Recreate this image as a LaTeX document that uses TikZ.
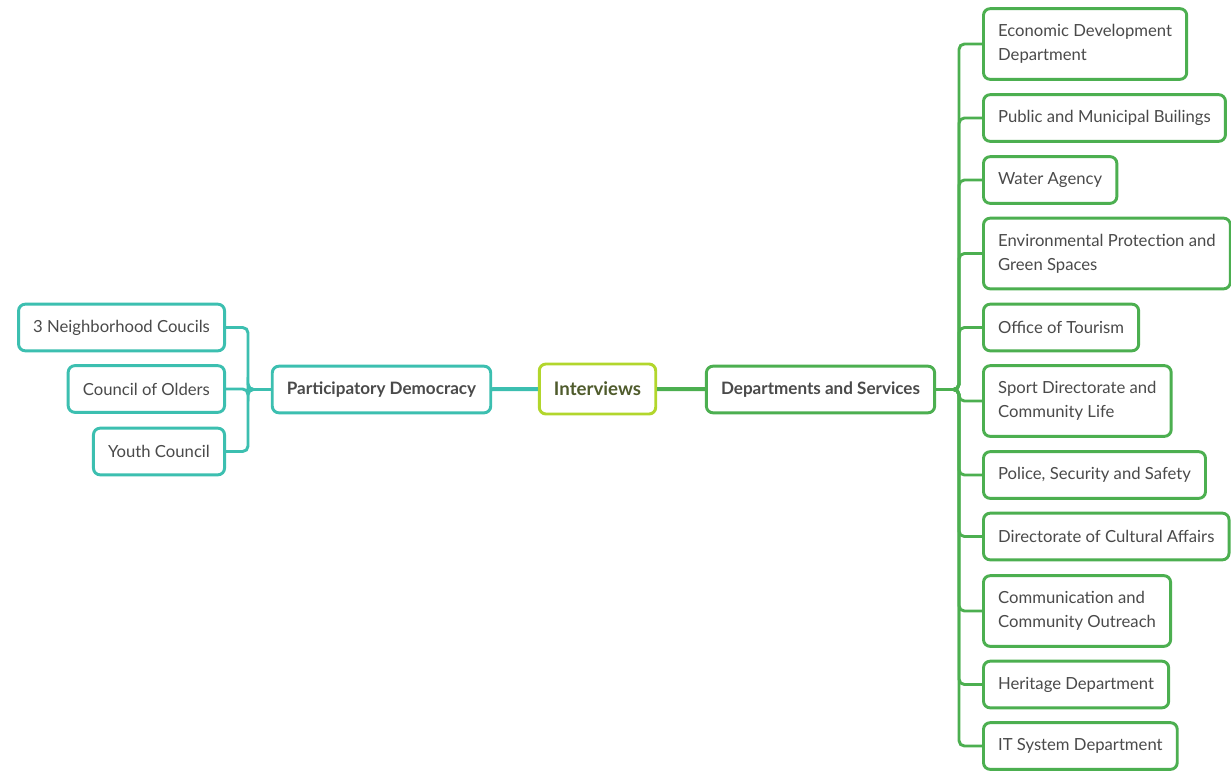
\documentclass[tikz,border=0pt]{standalone}
\usepackage{fontspec}
\setmainfont{Lato}
\definecolor{teal}{HTML}{3CBFB0}
\definecolor{lime}{HTML}{B2D62C}
\definecolor{leafgreen}{HTML}{4CAF50}
\definecolor{ink}{HTML}{4A4A4A}
\definecolor{olive}{HTML}{4F5B2C}
\tikzset{
  box/.style={draw=#1, line width=2.2pt, rounded corners=5pt, fill=white,
    text=ink, align=left, inner xsep=11pt, inner ysep=7pt,
    minimum height=35pt, font=\fontsize{12.5}{18}\selectfont},
  hub/.style={box=#1, font=\fontsize{12.8}{18}\selectfont\bfseries},
  bus/.style={draw=#1, line width=2.2pt, rounded corners=4pt},
}
\begin{document}
\begin{tikzpicture}[x=0.75pt, y=-0.75pt]
    \useasboundingbox (0,0) rectangle (1231,771);
    % centre and the two main branches
    \node[box=lime, font=\fontsize{14}{18}\selectfont\bfseries, text=olive,
      minimum height=37.5pt] (interviews) at (597.5,389) {Interviews};
    \node[hub=teal] (particip) at (381.5,389.5) {Participatory Democracy};
    \node[hub=leafgreen] (depts) at (820.5,389.5) {Departments and Services};
    \coordinate (lbus) at (248,389.5);
    \coordinate (rbus) at (959,389.5);
    % left leaves
    \node[box=teal, anchor=east] (neigh) at (226,327.5) {3 Neighborhood Coucils};
    \node[box=teal, anchor=east] (olders) at (226,389) {Council of Olders};
    \node[box=teal, anchor=east] (youth) at (226,451.5) {Youth Council};
    % right leaves
    \foreach \n/\y/\h/\t in {
        econ/44/53/{Economic Development\\Department},
        public/118/35/{Public and Municipal Builings},
        water/180/35/{Water Agency},
        envir/253.5/53/{Environmental Protection and\\Green Spaces},
        tourism/327.5/35/{Office of Tourism},
        sport/401/53/{Sport Directorate and\\Community Life},
        police/475/35/{Police, Security and Safety},
        culture/536.5/35/{Directorate of Cultural Affairs},
        comm/611/53/{Communication and\\Community Outreach},
        heritage/684.5/35/{Heritage Department},
        itsys/746/35/{IT System Department}}
        \node[box=leafgreen, anchor=west, minimum height=\h pt] (\n) at (982,\y) {\t};
    % connectors
    \draw[teal, line width=3pt] (particip) -- (interviews);
    \draw[leafgreen, line width=3pt] (interviews) -- (depts);
    \foreach \n in {neigh,olders,youth}
        \draw[bus=teal] (particip.west) -- (lbus) |- (\n.east);
    \foreach \n in {econ,public,water,envir,tourism,sport,police,culture,comm,heritage,itsys}
        \draw[bus=leafgreen] (depts.east) -- (rbus) |- (\n.west);
\end{tikzpicture}
\end{document}
